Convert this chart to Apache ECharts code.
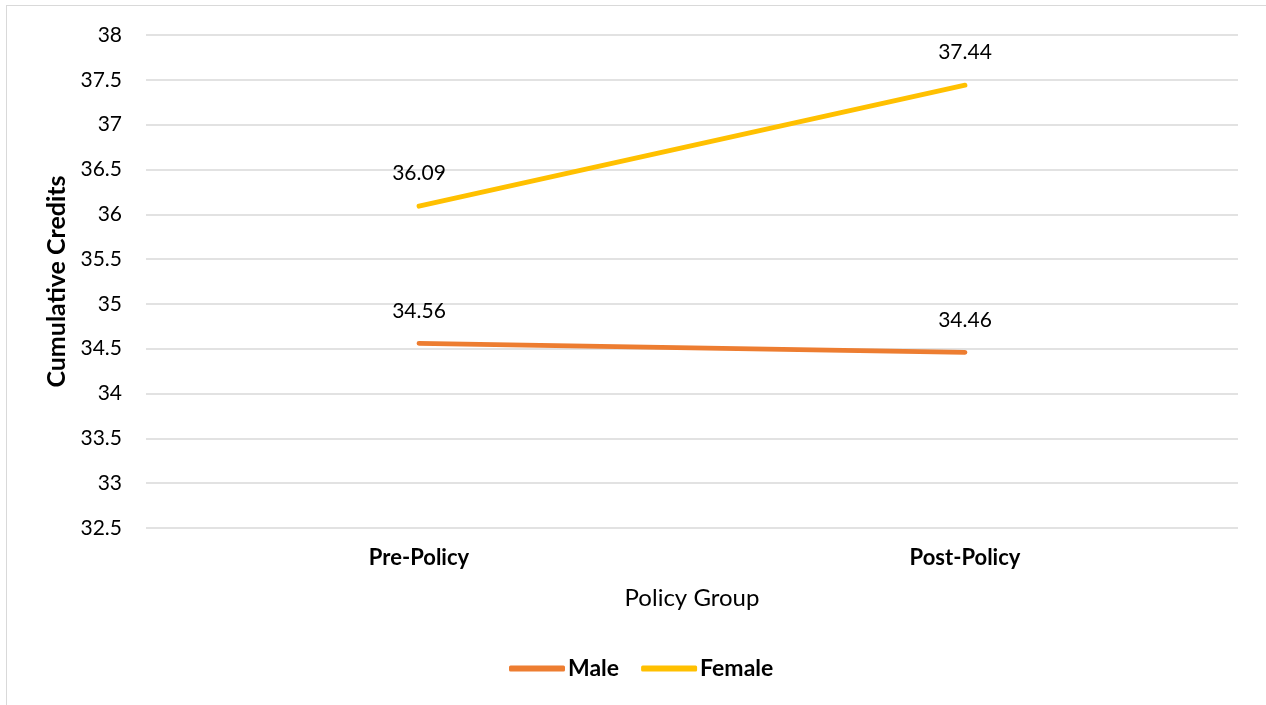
<!DOCTYPE html>
<html>
<head>
<meta charset="utf-8">
<script src="https://cdn.jsdelivr.net/npm/echarts@6/dist/echarts.min.js"></script>
<style>
  html, body { margin: 0; padding: 0; background: #fff; overflow: hidden; }
  #frame { position: absolute; left: 6px; top: 5px; width: 1280px; height: 720px; border: 1.5px solid #d9d9d9; box-sizing: border-box; }
  #chart { position: absolute; left: 0; top: 0; width: 1266px; height: 705px; }
</style>
</head>
<body>
<div id="frame"></div>
<div id="chart"></div>
<script>
// Cumulative credits by policy group and gender
const categories = ['Pre-Policy', 'Post-Policy'];
const maleValues = [34.56, 34.46];
const femaleValues = [36.09, 37.44];
const yMin = 32.5, yMax = 38, yStep = 0.5;

const FONT = 'Lato, "Open Sans", sans-serif';
const chart = echarts.init(document.getElementById('chart'), null, { renderer: 'canvas' });

function lineSeries(name, data, color) {
  return {
    name: name,
    type: 'line',
    data: data,
    symbol: 'circle',
    symbolSize: 0,
    showSymbol: true,
    lineStyle: { color: color, width: 4.8, cap: 'round' },
    itemStyle: { color: color },
    label: {
      show: true,
      position: 'top',
      distance: 22,
      color: '#000',
      fontFamily: FONT,
      fontSize: 21,
      formatter: p => p.value.toFixed(2)
    },
    labelLayout: { hideOverlap: false },
    animation: false
  };
}

chart.setOption({
  backgroundColor: 'transparent',
  animation: false,
  grid: { left: 146, right: 28, top: 35, bottom: 177, containLabel: false },
  legend: {
    bottom: 20,
    left: 504,
    icon: 'roundRect',
    itemWidth: 56,
    itemHeight: 6,
    itemGap: 22,
    textStyle: { color: '#000', fontFamily: FONT, fontSize: 23, fontWeight: 'bold', padding: [0, 0, 0, -2] },
    data: ['Male', 'Female']
  },
  xAxis: {
    type: 'category',
    data: categories,
    boundaryGap: true,
    axisLine: { show: false },
    axisTick: { show: false },
    axisLabel: { color: '#000', fontFamily: FONT, fontSize: 22, fontWeight: 'bold', margin: 19 },
    name: 'Policy Group',
    nameLocation: 'middle',
    nameGap: 58,
    nameTextStyle: { color: '#000', fontFamily: FONT, fontSize: 24 }
  },
  yAxis: {
    type: 'value',
    min: yMin,
    max: yMax,
    interval: yStep,
    axisLine: { show: false },
    axisTick: { show: false },
    splitLine: { lineStyle: { color: '#d9d9d9', width: 1.5 } },
    axisLabel: { color: '#000', fontFamily: FONT, fontSize: 21, margin: 24, formatter: v => String(v) },
    name: 'Cumulative Credits',
    nameLocation: 'middle',
    nameGap: 76,
    nameTextStyle: { color: '#000', fontFamily: FONT, fontSize: 25, fontWeight: 'bold' }
  },
  series: [
    lineSeries('Male', maleValues, '#ED7D31'),
    lineSeries('Female', femaleValues, '#FFC000')
  ]
});
</script>
</body>
</html>
